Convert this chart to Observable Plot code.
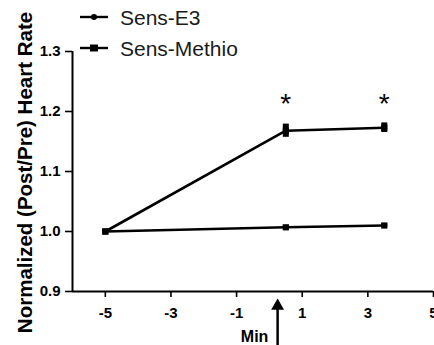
<!DOCTYPE html>
<html>
<head>
<meta charset="utf-8">
<script src="https://cdn.jsdelivr.net/npm/d3@7"></script>
<script src="https://cdn.jsdelivr.net/npm/@observablehq/plot@0.6"></script>
<style>
  html, body { margin: 0; padding: 0; background: #fff; }
  #wrap { position: relative; width: 434px; height: 345px; font-family: "Liberation Sans", Arial, sans-serif; }
  #legend { position: absolute; left: 0; top: 0; }
</style>
</head>
<body>
<div id="wrap"></div>
<script>
// ---- data ----
const time = [-5, 0.5, 3.5];
const seriesNames = ["Sens-E3", "Sens-Methio"];
const e3Mean = [1.0, 1.168, 1.173];
const e3Err = [0.002, 0.011, 0.008];
const methioMean = [1.0, 1.007, 1.010];
const methioErr = [0.002, 0.003, 0.003];
const xTicks = [-5, -3, -1, 1, 3, 5];
const yTicks = [0.9, 1.0, 1.1, 1.2, 1.3];
const starX = [0.5, 3.5];
const starY = [1.212, 1.212];
const arrowX = [0.25];
const arrowHeadY = [0.876];
const arrowTailY = [0.81];
const xLabel = "Min";
const yLabel = "Normalized (Post/Pre) Heart Rate";

const rows = [];
seriesNames.forEach((s, si) => {
  const m = si === 0 ? e3Mean : methioMean;
  const e = si === 0 ? e3Err : methioErr;
  time.forEach((t, i) => rows.push({series: s, t, v: m[i], lo: m[i] - e[i], hi: m[i] + e[i]}));
});
const stars = starX.map((x, i) => ({x, y: starY[i]}));

const chart = Plot.plot({
  width: 434,
  height: 345,
  marginLeft: 72,
  marginRight: 1,
  marginTop: 51,
  marginBottom: 54,
  style: {fontFamily: "Liberation Sans, Arial, sans-serif", color: "#000", background: "#fff"},
  x: {domain: [-6, 5]},
  y: {domain: [0.9, 1.3]},
  marks: [
    Plot.ruleX([-6], {y1: 0.9, y2: 1.3, stroke: "#000", strokeWidth: 2}),
    Plot.ruleY([0.9], {x1: -6, x2: 5, stroke: "#000", strokeWidth: 2}),
    Plot.axisY({ticks: yTicks, tickFormat: d3.format(".1f"), tickSize: 7, tickPadding: 5, fontSize: 15, fontWeight: "bold", stroke: "#000", strokeWidth: 1.6, label: null}),
    Plot.axisX({ticks: xTicks, tickFormat: d => d < 0 ? "-" + Math.abs(d) : String(d), tickSize: 6, tickPadding: 10, fontSize: 15, fontWeight: "bold", stroke: "#000", strokeWidth: 1.6, label: null}),
    Plot.line(rows, {x: "t", y: "v", z: "series", stroke: "#000", strokeWidth: 2.6}),
    Plot.ruleX(rows, {x: "t", y1: "lo", y2: "hi", stroke: "#000", strokeWidth: 6}),
    Plot.dot(rows, {x: "t", y: "v", symbol: "square", r: 3.5, fill: "#000"}),
    Plot.text(stars, {x: "x", y: "y", text: () => "*", fontSize: 28, fill: "#000"}),
    Plot.ruleX(arrowX, {x: d => d, y1: arrowHeadY[0], y2: arrowTailY[0], stroke: "#000", strokeWidth: 2.5}),
    Plot.dot(arrowX, {x: d => d, y: arrowHeadY[0], symbol: "triangle", r: 4.8, fill: "#000", stroke: "none"}),
    Plot.text([xLabel], {x: arrowX[0], y: arrowTailY[0], text: d => d, dx: -23, dy: -9, fontSize: 16, fontWeight: "bold", fill: "#000"}),
    Plot.text([yLabel], {frameAnchor: "left", textAnchor: "middle", text: d => d, rotate: -90, dx: -47, dy: 1, fontSize: 20.5, fontWeight: "bold", fill: "#000"})
  ]
});
document.getElementById("wrap").appendChild(chart);

// legend overlay (top-left, overlapping the plot area as in the reference)
const leg = document.createElement("div");
leg.id = "legend";
const markers = [{kind: "circle", cy: 17}, {kind: "square", cy: 48}];
let svg = '<svg width="260" height="62" xmlns="http://www.w3.org/2000/svg">';
seriesNames.forEach((name, i) => {
  const cy = markers[i].cy;
  svg += `<line x1="80" x2="108" y1="${cy}" y2="${cy}" stroke="#000" stroke-width="2.4"/>`;
  if (markers[i].kind === "circle") svg += `<circle cx="94" cy="${cy}" r="3" fill="#000"/>`;
  else svg += `<rect x="90" y="${cy - 3.5}" width="8" height="7" fill="#000"/>`;
  svg += `<text x="120" y="${cy + 7.5}" font-size="21" font-family="Liberation Sans, Arial, sans-serif" fill="#1a1a1a">${name}</text>`;
});
svg += '</svg>';
leg.innerHTML = svg;
document.getElementById("wrap").appendChild(leg);
</script>
</body>
</html>
